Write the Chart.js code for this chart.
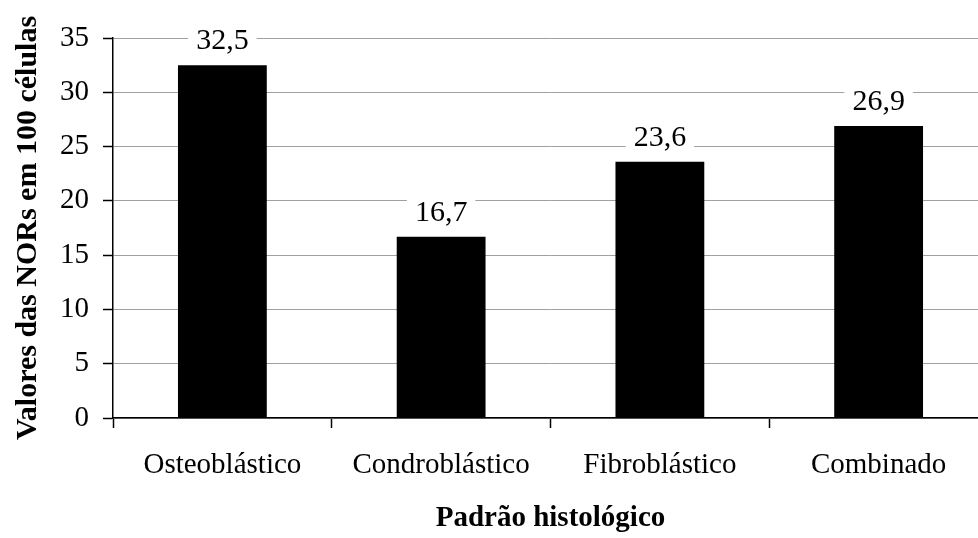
<!DOCTYPE html>
<html>
<head>
<meta charset="utf-8">
<script src="https://cdn.jsdelivr.net/npm/chart.js@4.4.1/dist/chart.umd.min.js"></script>
<style>
  html, body { margin: 0; padding: 0; background: #fff; overflow: hidden; }
  #wrap { width: 1000px; height: 538px; }
</style>
</head>
<body>
<div id="wrap"><canvas id="c" width="1000" height="538"></canvas></div>
<script>
const categories = ['Osteoblástico', 'Condroblástico', 'Fibroblástico', 'Combinado'];
const norValues = [32.5, 16.7, 23.6, 26.9];
const yTicks = [0, 5, 10, 15, 20, 25, 30, 35];

const FONT = '"Liberation Serif", "Times New Roman", serif';

// Writes each bar's value above it on a white patch that breaks the gridline
const valueLabels = {
  id: 'valueLabels',
  afterDatasetsDraw(chart) {
    const ctx = chart.ctx;
    const meta = chart.getDatasetMeta(0);
    ctx.save();
    ctx.font = '30px ' + FONT;
    ctx.textAlign = 'center';
    ctx.textBaseline = 'middle';
    meta.data.forEach((bar, i) => {
      const txt = norValues[i].toFixed(1).replace('.', ',');
      const w = ctx.measureText(txt).width;
      const cy = bar.y - 24;
      ctx.fillStyle = '#fff';
      ctx.fillRect(bar.x - w / 2 - 8, cy - 15, w + 16, 30);
      ctx.fillStyle = '#000';
      ctx.fillText(txt, bar.x, cy);
    });
    ctx.restore();
  }
};

new Chart(document.getElementById('c'), {
  type: 'bar',
  data: {
    labels: categories,
    datasets: [{
      data: norValues,
      backgroundColor: '#000',
      borderWidth: 0,
      barPercentage: 0.406,
      categoryPercentage: 1.0
    }]
  },
  options: {
    responsive: false,
    animation: false,
    devicePixelRatio: 1,
    layout: { padding: { top: 38, right: 12, left: 0, bottom: 0 } },
    plugins: { legend: { display: false }, tooltip: { enabled: false } },
    scales: {
      x: {
        offset: true,
        border: { color: '#000', width: 1.5 },
        grid: {
          offset: true,
          drawOnChartArea: false,
          drawTicks: true,
          tickLength: 10,
          tickColor: '#000',
          tickWidth: 1.5
        },
        ticks: {
          color: '#000',
          padding: 20,
          font: { family: FONT, size: 29 },
          maxRotation: 0
        },
        title: {
          display: true,
          text: 'Padrão histológico',
          color: '#000',
          font: { family: FONT, size: 29, weight: 'bold' },
          padding: { top: 0, bottom: 2 }
        },
        afterFit(scale) { scale.height = 120; }
      },
      y: {
        min: 0,
        max: 35,
        afterBuildTicks(scale) { scale.ticks = yTicks.map(v => ({ value: v })); },
        border: { color: '#000', width: 1.5 },
        grid: {
          color: '#a0a0a0',
          lineWidth: 1,
          borderDash: [1, 1],
          drawTicks: true,
          tickLength: 10,
          tickColor: '#000',
          tickWidth: 1.5,
          tickBorderDash: []
        },
        ticks: {
          color: '#000',
          padding: 14,
          font: { family: FONT, size: 29 }
        },
        title: {
          display: true,
          text: 'Valores das NORs em 100 células',
          color: '#000',
          font: { family: FONT, size: 30, weight: 'bold' },
          padding: { top: 10, bottom: 0 }
        },
        afterFit(scale) { scale.width = 113; }
      }
    }
  },
  plugins: [valueLabels]
});
</script>
</body>
</html>
